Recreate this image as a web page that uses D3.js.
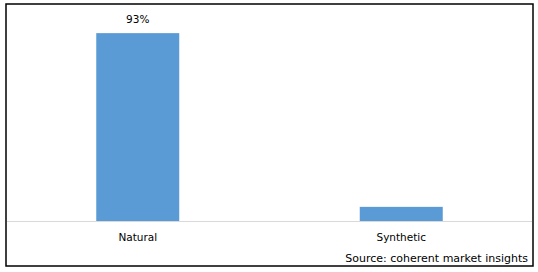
<!DOCTYPE html>
<html>
<head>
<meta charset="utf-8">
<script src="https://cdn.jsdelivr.net/npm/d3@7"></script>
<style>
  body { margin: 0; background: #fff; }
  text { font-family: "DejaVu Sans", sans-serif; font-size: 10.5px; fill: #000; }
</style>
</head>
<body>
<div id="chart"></div>
<script>
const categories = ["Natural", "Synthetic"];
const shares = [93, 7];
const valueLabels = ["93%", null];
const sourceText = "Source: coherent market insights";

const width = 538, height = 272;
const baseline = 221;

const svg = d3.select("#chart").append("svg")
  .attr("width", width).attr("height", height);

// outer frame
svg.append("rect")
  .attr("x", 6).attr("y", 4).attr("width", 527).attr("height", 262)
  .attr("fill", "none").attr("stroke", "#000").attr("stroke-width", 1.5);

const x = d3.scaleBand()
  .domain(categories)
  .range([6, 533])
  .paddingInner(0.685)
  .paddingOuter(0.3425);

const y = d3.scaleLinear().domain([0, 100]).range([baseline, 19]);

const data = categories.map((c, i) => ({ cat: c, v: shares[i], label: valueLabels[i] }));

svg.append("g").selectAll("rect")
  .data(data)
  .join("rect")
  .attr("x", d => x(d.cat))
  .attr("y", d => y(d.v))
  .attr("width", x.bandwidth())
  .attr("height", d => y(0) - y(d.v))
  .attr("fill", "#5b9bd5");

// category axis
const axis = svg.append("g")
  .attr("transform", `translate(0,${baseline})`)
  .call(d3.axisBottom(x).tickSize(0).tickPadding(13));
axis.select(".domain").attr("stroke", "#d9d9d9").attr("d", "M7,0.5H532");
axis.selectAll("text").attr("font-family", "DejaVu Sans, sans-serif").attr("font-size", 10.5).attr("fill", "#000");

svg.append("g").selectAll("text")
  .data(data.filter(d => d.label))
  .join("text")
  .attr("x", d => x(d.cat) + x.bandwidth() / 2)
  .attr("y", d => y(d.v) - 10)
  .attr("text-anchor", "middle")
  .text(d => d.label);

svg.append("text")
  .attr("x", 528).attr("y", 262)
  .attr("text-anchor", "end")
  .attr("font-size", 11)
  .style("font-size", "11px")
  .text(sourceText);
</script>
</body>
</html>
